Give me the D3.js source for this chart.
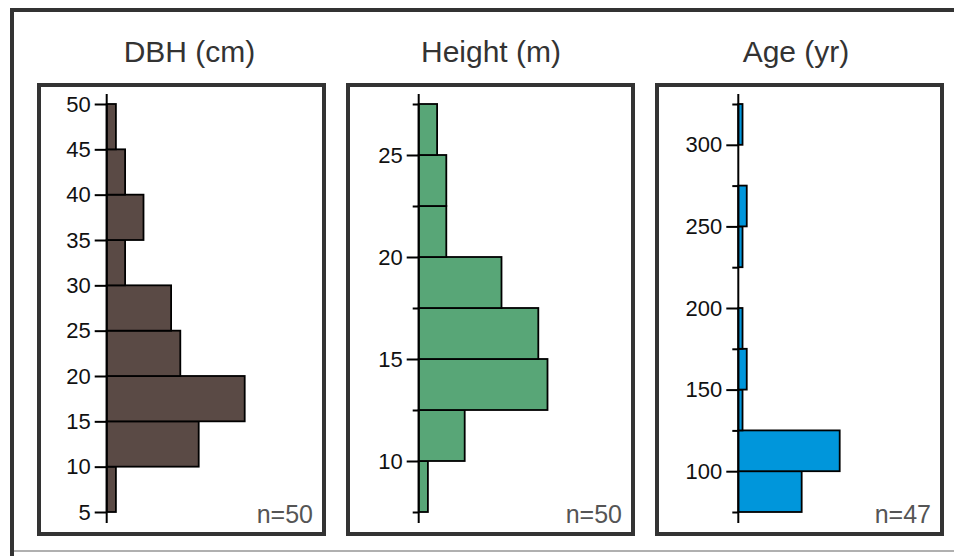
<!DOCTYPE html>
<html>
<head>
<meta charset="utf-8">
<script src="https://cdn.jsdelivr.net/npm/d3@7"></script>
<style>
  body { margin: 0; background: #fff; }
  svg { display: block; font-family: "Liberation Sans", Arial, sans-serif; }
</style>
</head>
<body>
<svg width="954" height="556"></svg>
<script>
// bins (lower edge) and counts
var dbhBins = [5, 10, 15, 20, 25, 30, 35, 40, 45]
var dbhCounts = [1, 10, 15, 8, 7, 2, 4, 2, 1]
var dbhTicks = [5, 10, 15, 20, 25, 30, 35, 40, 45, 50]

var heightBins = [7.5, 10, 12.5, 15, 17.5, 20, 22.5, 25]
var heightCounts = [1, 5, 14, 13, 9, 3, 3, 2]
var heightTicks = [10, 15, 20, 25]
var heightMinor = [7.5, 12.5, 17.5, 22.5, 27.5]

var ageBins = [75, 100, 125, 150, 175, 200, 225, 250, 275, 300]
var ageCounts = [15, 24, 1, 2, 1, 0, 1, 2, 0, 1]
var ageTicks = [100, 150, 200, 250, 300]
var ageMinor = [75, 125, 175, 225, 275, 325]

var titles = ['DBH (cm)', 'Height (m)', 'Age (yr)']
var nLabels = ['n=50', 'n=50', 'n=47']

var svg = d3.select('svg')

// outer frame (cut by the picture edge)
svg.append('rect')
  .attr('x', 12).attr('y', 10)
  .attr('width', 980).attr('height', 600)
  .attr('fill', 'none').attr('stroke', '#333').attr('stroke-width', 4)
svg.append('line')
  .attr('x1', 14).attr('x2', 954).attr('y1', 551).attr('y2', 551)
  .attr('stroke', '#b0b0b0').attr('stroke-width', 2)

var panels = [
  { bins: dbhBins, counts: dbhCounts, width: 5, ticks: dbhTicks, minor: [], domain: [5, 50],
    left: 39, axisX: 106.7, titleX: 189.5, xMax: 20, xPx: 184, fill: '#5a4a45' },
  { bins: heightBins, counts: heightCounts, width: 2.5, ticks: heightTicks, minor: heightMinor, domain: [7.5, 27.5],
    left: 348, axisX: 418.7, titleX: 491, xMax: 20, xPx: 184, fill: '#58a677' },
  { bins: ageBins, counts: ageCounts, width: 25, ticks: ageTicks, minor: ageMinor, domain: [75, 325],
    left: 657, axisX: 738.3, titleX: 796, xMax: 40, xPx: 169, fill: '#0096db' }
]

panels.forEach(function (p, i) {
  var g = svg.append('g')

  // panel box
  g.append('rect')
    .attr('x', p.left).attr('y', 85)
    .attr('width', 285).attr('height', 449)
    .attr('fill', '#fff').attr('stroke', '#333').attr('stroke-width', 4)

  g.append('text')
    .attr('x', p.titleX).attr('y', 62)
    .attr('text-anchor', 'middle')
    .attr('font-size', 30)
    .attr('fill', '#333')
    .text(titles[i])

  var y = d3.scaleLinear().domain(p.domain).range([512, 104])
  var x = d3.scaleLinear().domain([0, p.xMax]).range([0, p.xPx])

  var data = p.bins.map(function (b, k) { return { lo: b, hi: b + p.width, n: p.counts[k] } })
    .filter(function (d) { return d.n > 0 })

  var plot = g.append('g').attr('transform', 'translate(' + p.axisX + ',0)')

  plot.selectAll('rect.bar')
    .data(data)
    .enter().append('rect')
      .attr('class', 'bar')
      .attr('x', 0)
      .attr('y', function (d) { return y(d.hi) })
      .attr('width', function (d) { return x(d.n) })
      .attr('height', function (d) { return y(d.lo) - y(d.hi) })
      .attr('fill', p.fill)
      .attr('stroke', '#000')
      .attr('stroke-width', 1.8)

  // minor (unlabelled) ticks at bin edges
  if (p.minor.length) {
    var minorAxis = plot.append('g')
      .call(d3.axisLeft(y).tickValues(p.minor).tickSize(6).tickSizeOuter(0).tickFormat(''))
    minorAxis.select('.domain').remove()
    minorAxis.selectAll('line').attr('stroke', '#000').attr('stroke-width', 2)
  }

  var axis = plot.append('g')
    .call(d3.axisLeft(y).tickValues(p.ticks).tickSize(12).tickSizeOuter(0).tickPadding(4))
  axis.select('.domain').remove()
  axis.selectAll('line').attr('stroke', '#000').attr('stroke-width', 2)
  axis.selectAll('text')
    .attr('font-size', 22)
    .attr('font-family', '"Liberation Sans", Arial, sans-serif')
    .attr('fill', '#111')

  // vertical axis line, running a little past the end ticks
  plot.append('line')
    .attr('x1', 0).attr('x2', 0)
    .attr('y1', y.range()[1] - 10).attr('y2', y.range()[0] + 11)
    .attr('stroke', '#000').attr('stroke-width', 2)

  g.append('text')
    .attr('x', p.left + 274).attr('y', 523)
    .attr('text-anchor', 'end')
    .attr('font-size', 25)
    .attr('fill', '#555')
    .text(nLabels[i])
})
</script>
</body>
</html>
